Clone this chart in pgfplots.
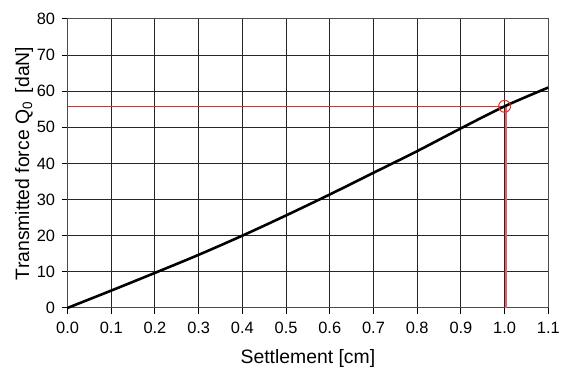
\documentclass[border=0pt]{standalone}
\usepackage{fontspec}
\setmainfont{Liberation Sans}
\usepackage{pgfplots}
\pgfplotsset{compat=1.18}
\definecolor{myred}{RGB}{235,40,40}
\definecolor{myred2}{RGB}{240,90,100}
\begin{document}
\begin{tikzpicture}
\begin{axis}[
  scale only axis,
  width=484pt, height=291pt,
  xmin=0, xmax=1.1, ymin=0, ymax=80,
  xtick={0,0.1,...,1.1}, ytick={0,10,...,80},
  xticklabel style={/pgf/number format/fixed,/pgf/number format/fixed zerofill,/pgf/number format/precision=1},
  /pgf/number format/assume math mode=true,
  grid=major,
  grid style={black!85, line width=1pt},
  axis line style={black!70, line width=1pt},
  tick align=outside,
  xtick pos=bottom, ytick pos=left,
  major tick length=6pt,
  tick style={black, line width=1pt},
  ticklabel style={font=\fontsize{16.5}{17}\selectfont},
  yticklabel style={xshift=-3pt},
  xticklabel style={yshift=-5pt},
  xlabel={Settlement [cm]},
  ylabel={Transmitted force Q\textsubscript{0}\, [daN]},
  label style={font=\fontsize{19.5}{20}\selectfont},
  xlabel style={yshift=-9pt},
  ylabel style={yshift=-3pt},
  clip=false,
]
\addplot[myred, line width=0.8pt] coordinates {(0,55.8) (1.0,55.8)};
\addplot[myred2, line width=2pt] coordinates {(1.003,0) (1.003,55.8)};
\addplot[black, line width=2.6pt, smooth, tension=0.5] coordinates {
(0,0) (0.1,4.8) (0.2,9.7) (0.3,14.7) (0.4,20.0) (0.5,25.6) (0.6,31.4) (0.7,37.4) (0.8,43.4) (0.9,49.7) (1.0,55.8) (1.1,61.0)};
\addplot[myred, only marks, mark=o, mark size=6pt, mark options={line width=1pt}] coordinates {(1.0,55.8)};
\end{axis}
\path[use as bounding box] (current axis.south west) ++(-68pt,-55pt) rectangle ++(563pt,365pt);
\end{tikzpicture}
\end{document}
